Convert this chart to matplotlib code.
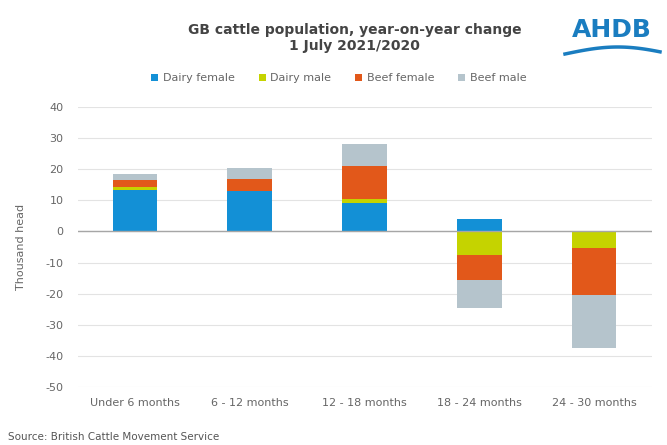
import numpy as np
import matplotlib
matplotlib.use('Agg')
import matplotlib.pyplot as plt

plt.rcParams['axes.unicode_minus'] = False

# ── Data (thousand head, year-on-year change) ────────────────────────────────
categories   = ['Under 6 months', '6 - 12 months', '12 - 18 months', '18 - 24 months', '24 - 30 months']
dairy_female = [13.2, 13.0, 9.2, 4.1, 0.0]
dairy_male   = [1.1, 0.0, 1.3, -7.7, -5.3]
beef_female  = [2.1, 3.9, 10.6, -8.0, -15.1]
beef_male    = [2.1, 3.4, 7.0, -8.9, -17.0]

series = [
    ('Dairy female', dairy_female, '#1390D6'),
    ('Dairy male',   dairy_male,   '#C5D300'),
    ('Beef female',  beef_female,  '#E2581A'),
    ('Beef male',    beef_male,    '#B5C4CC'),
]

fig = plt.figure(figsize=(6.67, 4.45), dpi=100)
ax = fig.add_axes([77.5 / 667, 1 - 387 / 445, (651.5 - 77.5) / 667, (387 - 107) / 445])

x = np.arange(len(categories))
pos_base = np.zeros(len(categories))
neg_base = np.zeros(len(categories))
for name, vals, col in series:
    v = np.array(vals, dtype=float)
    bottom = np.where(v >= 0, pos_base, neg_base)
    ax.bar(x, v, bottom=bottom, width=0.39, color=col, label=name, zorder=3)
    pos_base += np.where(v >= 0, v, 0)
    neg_base += np.where(v < 0, v, 0)

ax.set_xlim(-0.5, len(categories) - 0.5)
ax.set_ylim(-50, 40)
ax.set_yticks(range(-50, 41, 10))
ax.set_xticks(x)
ax.set_xticklabels(categories)
ax.tick_params(axis='both', length=0, colors='#666666', labelsize=8)
ax.tick_params(axis='x', pad=8)
ax.tick_params(axis='y', pad=10)
ax.grid(axis='y', color='#E3E3E3', linewidth=0.8, zorder=0)
ax.axhline(0, color='#A6A6A6', linewidth=1.0, zorder=4)
for s in ax.spines.values():
    s.set_visible(False)
ax.set_ylabel('Thousand head', color='#666666', fontsize=8, labelpad=14)

fig.text(0.532, 1 - 38 / 445, 'GB cattle population, year-on-year change\n1 July 2021/2020',
         ha='center', va='center', fontsize=10, fontweight='bold', color='#444444',
         linespacing=1.25)

fig.legend(loc='center', bbox_to_anchor=(0.508, 1 - 78 / 445), ncol=4, frameon=False,
           fontsize=8, handlelength=0.6, handleheight=0.6, handletextpad=0.4,
           columnspacing=2.2, labelcolor='#666666')

# AHDB logo
fig.text(612 / 667, 1 - 30 / 445, 'AHDB', ha='center', va='center', fontsize=18,
         fontweight='bold', color='#1A7DC0')
t = np.linspace(0, 1, 50)
fig.add_artist(plt.Line2D((565 + 95 * t) / 667, 1 - (54 - 7 * np.sin(np.pi * t * 0.9)) / 445,
                          transform=fig.transFigure, color='#1A7DC0', linewidth=2.5))

fig.text(8 / 667, 1 - 437 / 445, 'Source: British Cattle Movement Service',
         ha='left', va='center', fontsize=7.5, color='#555555')

plt.savefig('out.png', dpi=100)
plt.close()
